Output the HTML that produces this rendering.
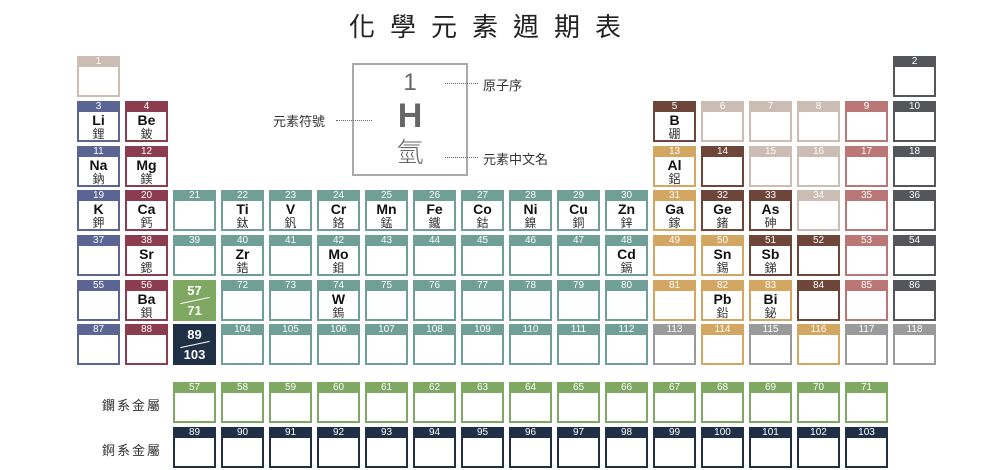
<!DOCTYPE html>
<html><head><meta charset="utf-8"><style>
*{margin:0;padding:0;box-sizing:border-box}
body{width:1000px;height:470px;background:#fff;position:relative;overflow:hidden;font-family:"Liberation Sans","Noto Sans CJK TC",sans-serif}
.c{position:absolute;width:43px;height:41px;border:2px solid;background:#fff;text-align:center}
.c b{display:block;height:10px;font-size:10px;line-height:10px;color:#fff;font-weight:normal;margin:-1px -1px 0 -1px}
.c i{display:block;font-style:normal;font-weight:bold;font-size:14px;line-height:15px;color:#111;margin-top:1px}
.c s{display:block;text-decoration:none;font-size:12px;line-height:12px;color:#333}
.a{border-color:#5b6594}.a b{background:#5b6594}
.e{border-color:#8b3c4f}.e b{background:#8b3c4f}
.t{border-color:#6f9f96}.t b{background:#6f9f96}
.p{border-color:#d3a661}.p b{background:#d3a661}
.m{border-color:#6e4539}.m b{background:#6e4539}
.n{border-color:#cbbdb4}.n b{background:#cbbdb4}
.h{border-color:#bb7676}.h b{background:#bb7676}
.g{border-color:#55565b}.g b{background:#55565b}
.u{border-color:#9a9a9a}.u b{background:#9a9a9a}
.l{border-color:#7fa863}.l b{background:#7fa863}
.k{border-color:#1f2f45}.k b{background:#1f2f45}
.f{position:absolute;width:43px;height:41px;color:#fff;font-weight:bold;font-size:13px;text-align:center}
.f div{line-height:17px}
.f hr{border:0;border-top:1.5px solid #fff;width:30px;margin:1px auto;transform:rotate(-12deg)}
.lbl{position:absolute;font-size:13px;color:#333;font-family:"Liberation Sans","Noto Sans CJK TC",sans-serif}
.dot{position:absolute;border-top:1px dotted #666;width:33px}
</style></head><body>
<div style="position:absolute;left:340px;top:7px;width:305px;text-align:center;font-size:26px;letter-spacing:15px;color:#222;font-family:'Noto Sans CJK TC',sans-serif">化學元素週期表</div>

<div style="position:absolute;left:352px;top:63px;width:116px;height:113px;border:2px solid #aaa;text-align:center;color:#666">
<div style="font-size:24px;line-height:28px;margin-top:4px">1</div>
<div style="font-size:34px;font-weight:bold;line-height:38px">H</div>
<div style="font-size:27px;line-height:32px;font-family:'Noto Sans CJK TC',sans-serif;font-weight:300">氫</div>
</div>
<div class="dot" style="left:445px;top:83px"></div><div class="lbl" style="left:483px;top:75px">原子序</div>
<div class="lbl" style="left:273px;top:111px">元素符號</div><div class="dot" style="left:336px;top:120px;width:36px"></div>
<div class="dot" style="left:445px;top:157px"></div><div class="lbl" style="left:483px;top:149px">元素中文名</div>

<div class="c n" style="left:77px;top:56px"><b>1</b></div>
<div class="c g" style="left:893px;top:56px"><b>2</b></div>

<div class="c a" style="left:77px;top:101px"><b>3</b><i>Li</i><s>鋰</s></div>
<div class="c e" style="left:125px;top:101px"><b>4</b><i>Be</i><s>鈹</s></div>
<div class="c m" style="left:653px;top:101px"><b>5</b><i>B</i><s>硼</s></div>
<div class="c n" style="left:701px;top:101px"><b>6</b></div>
<div class="c n" style="left:749px;top:101px"><b>7</b></div>
<div class="c n" style="left:797px;top:101px"><b>8</b></div>
<div class="c h" style="left:845px;top:101px"><b>9</b></div>
<div class="c g" style="left:893px;top:101px"><b>10</b></div>

<div class="c a" style="left:77px;top:146px"><b>11</b><i>Na</i><s>鈉</s></div>
<div class="c e" style="left:125px;top:146px"><b>12</b><i>Mg</i><s>鎂</s></div>
<div class="c p" style="left:653px;top:146px"><b>13</b><i>Al</i><s>鋁</s></div>
<div class="c m" style="left:701px;top:146px"><b>14</b></div>
<div class="c n" style="left:749px;top:146px"><b>15</b></div>
<div class="c n" style="left:797px;top:146px"><b>16</b></div>
<div class="c h" style="left:845px;top:146px"><b>17</b></div>
<div class="c g" style="left:893px;top:146px"><b>18</b></div>

<div class="c a" style="left:77px;top:190px"><b>19</b><i>K</i><s>鉀</s></div>
<div class="c e" style="left:125px;top:190px"><b>20</b><i>Ca</i><s>鈣</s></div>
<div class="c t" style="left:173px;top:190px"><b>21</b></div>
<div class="c t" style="left:221px;top:190px"><b>22</b><i>Ti</i><s>鈦</s></div>
<div class="c t" style="left:269px;top:190px"><b>23</b><i>V</i><s>釩</s></div>
<div class="c t" style="left:317px;top:190px"><b>24</b><i>Cr</i><s>鉻</s></div>
<div class="c t" style="left:365px;top:190px"><b>25</b><i>Mn</i><s>錳</s></div>
<div class="c t" style="left:413px;top:190px"><b>26</b><i>Fe</i><s>鐵</s></div>
<div class="c t" style="left:461px;top:190px"><b>27</b><i>Co</i><s>鈷</s></div>
<div class="c t" style="left:509px;top:190px"><b>28</b><i>Ni</i><s>鎳</s></div>
<div class="c t" style="left:557px;top:190px"><b>29</b><i>Cu</i><s>銅</s></div>
<div class="c t" style="left:605px;top:190px"><b>30</b><i>Zn</i><s>鋅</s></div>
<div class="c p" style="left:653px;top:190px"><b>31</b><i>Ga</i><s>鎵</s></div>
<div class="c m" style="left:701px;top:190px"><b>32</b><i>Ge</i><s>鍺</s></div>
<div class="c m" style="left:749px;top:190px"><b>33</b><i>As</i><s>砷</s></div>
<div class="c n" style="left:797px;top:190px"><b>34</b></div>
<div class="c h" style="left:845px;top:190px"><b>35</b></div>
<div class="c g" style="left:893px;top:190px"><b>36</b></div>

<div class="c a" style="left:77px;top:235px"><b>37</b></div>
<div class="c e" style="left:125px;top:235px"><b>38</b><i>Sr</i><s>鍶</s></div>
<div class="c t" style="left:173px;top:235px"><b>39</b></div>
<div class="c t" style="left:221px;top:235px"><b>40</b><i>Zr</i><s>鋯</s></div>
<div class="c t" style="left:269px;top:235px"><b>41</b></div>
<div class="c t" style="left:317px;top:235px"><b>42</b><i>Mo</i><s>鉬</s></div>
<div class="c t" style="left:365px;top:235px"><b>43</b></div>
<div class="c t" style="left:413px;top:235px"><b>44</b></div>
<div class="c t" style="left:461px;top:235px"><b>45</b></div>
<div class="c t" style="left:509px;top:235px"><b>46</b></div>
<div class="c t" style="left:557px;top:235px"><b>47</b></div>
<div class="c t" style="left:605px;top:235px"><b>48</b><i>Cd</i><s>鎘</s></div>
<div class="c p" style="left:653px;top:235px"><b>49</b></div>
<div class="c p" style="left:701px;top:235px"><b>50</b><i>Sn</i><s>錫</s></div>
<div class="c m" style="left:749px;top:235px"><b>51</b><i>Sb</i><s>銻</s></div>
<div class="c m" style="left:797px;top:235px"><b>52</b></div>
<div class="c h" style="left:845px;top:235px"><b>53</b></div>
<div class="c g" style="left:893px;top:235px"><b>54</b></div>

<div class="c a" style="left:77px;top:280px"><b>55</b></div>
<div class="c e" style="left:125px;top:280px"><b>56</b><i>Ba</i><s>鋇</s></div>
<div class="f" style="left:173px;top:280px;background:#7fa863;padding-top:2px"><div>57</div><hr><div>71</div></div>
<div class="c t" style="left:221px;top:280px"><b>72</b></div>
<div class="c t" style="left:269px;top:280px"><b>73</b></div>
<div class="c t" style="left:317px;top:280px"><b>74</b><i>W</i><s>鎢</s></div>
<div class="c t" style="left:365px;top:280px"><b>75</b></div>
<div class="c t" style="left:413px;top:280px"><b>76</b></div>
<div class="c t" style="left:461px;top:280px"><b>77</b></div>
<div class="c t" style="left:509px;top:280px"><b>78</b></div>
<div class="c t" style="left:557px;top:280px"><b>79</b></div>
<div class="c t" style="left:605px;top:280px"><b>80</b></div>
<div class="c p" style="left:653px;top:280px"><b>81</b></div>
<div class="c p" style="left:701px;top:280px"><b>82</b><i>Pb</i><s>鉛</s></div>
<div class="c p" style="left:749px;top:280px"><b>83</b><i>Bi</i><s>鉍</s></div>
<div class="c m" style="left:797px;top:280px"><b>84</b></div>
<div class="c h" style="left:845px;top:280px"><b>85</b></div>
<div class="c g" style="left:893px;top:280px"><b>86</b></div>

<div class="c a" style="left:77px;top:324px"><b>87</b></div>
<div class="c e" style="left:125px;top:324px"><b>88</b></div>
<div class="f" style="left:173px;top:324px;background:#1f2f45;padding-top:2px"><div>89</div><hr><div>103</div></div>
<div class="c t" style="left:221px;top:324px"><b>104</b></div>
<div class="c t" style="left:269px;top:324px"><b>105</b></div>
<div class="c t" style="left:317px;top:324px"><b>106</b></div>
<div class="c t" style="left:365px;top:324px"><b>107</b></div>
<div class="c t" style="left:413px;top:324px"><b>108</b></div>
<div class="c t" style="left:461px;top:324px"><b>109</b></div>
<div class="c t" style="left:509px;top:324px"><b>110</b></div>
<div class="c t" style="left:557px;top:324px"><b>111</b></div>
<div class="c t" style="left:605px;top:324px"><b>112</b></div>
<div class="c u" style="left:653px;top:324px"><b>113</b></div>
<div class="c p" style="left:701px;top:324px"><b>114</b></div>
<div class="c u" style="left:749px;top:324px"><b>115</b></div>
<div class="c p" style="left:797px;top:324px"><b>116</b></div>
<div class="c u" style="left:845px;top:324px"><b>117</b></div>
<div class="c u" style="left:893px;top:324px"><b>118</b></div>

<div class="lbl" style="left:102px;top:395px;letter-spacing:2px">鑭系金屬</div>
<div class="lbl" style="left:102px;top:440px;letter-spacing:2px">錒系金屬</div>

<div class="c l" style="left:173px;top:382px"><b>57</b></div>
<div class="c l" style="left:221px;top:382px"><b>58</b></div>
<div class="c l" style="left:269px;top:382px"><b>59</b></div>
<div class="c l" style="left:317px;top:382px"><b>60</b></div>
<div class="c l" style="left:365px;top:382px"><b>61</b></div>
<div class="c l" style="left:413px;top:382px"><b>62</b></div>
<div class="c l" style="left:461px;top:382px"><b>63</b></div>
<div class="c l" style="left:509px;top:382px"><b>64</b></div>
<div class="c l" style="left:557px;top:382px"><b>65</b></div>
<div class="c l" style="left:605px;top:382px"><b>66</b></div>
<div class="c l" style="left:653px;top:382px"><b>67</b></div>
<div class="c l" style="left:701px;top:382px"><b>68</b></div>
<div class="c l" style="left:749px;top:382px"><b>69</b></div>
<div class="c l" style="left:797px;top:382px"><b>70</b></div>
<div class="c l" style="left:845px;top:382px"><b>71</b></div>

<div class="c k" style="left:173px;top:427px"><b>89</b></div>
<div class="c k" style="left:221px;top:427px"><b>90</b></div>
<div class="c k" style="left:269px;top:427px"><b>91</b></div>
<div class="c k" style="left:317px;top:427px"><b>92</b></div>
<div class="c k" style="left:365px;top:427px"><b>93</b></div>
<div class="c k" style="left:413px;top:427px"><b>94</b></div>
<div class="c k" style="left:461px;top:427px"><b>95</b></div>
<div class="c k" style="left:509px;top:427px"><b>96</b></div>
<div class="c k" style="left:557px;top:427px"><b>97</b></div>
<div class="c k" style="left:605px;top:427px"><b>98</b></div>
<div class="c k" style="left:653px;top:427px"><b>99</b></div>
<div class="c k" style="left:701px;top:427px"><b>100</b></div>
<div class="c k" style="left:749px;top:427px"><b>101</b></div>
<div class="c k" style="left:797px;top:427px"><b>102</b></div>
<div class="c k" style="left:845px;top:427px"><b>103</b></div>
</body></html>
